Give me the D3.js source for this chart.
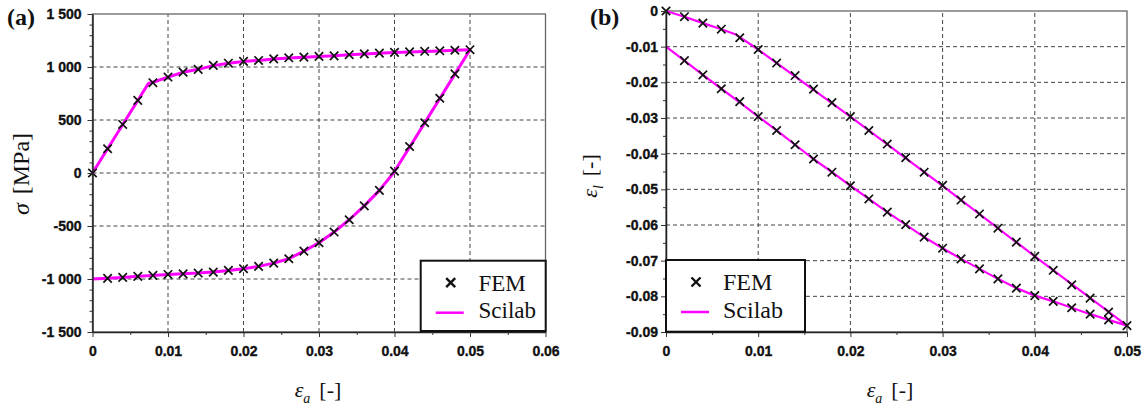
<!DOCTYPE html>
<html>
<head>
<meta charset="utf-8">
<script src="https://cdn.jsdelivr.net/npm/d3@7"></script>
<style>
  body { margin: 0; background: #fff; }
  .serif { font-family: "Liberation Serif", "Times New Roman", serif; fill: #111; }
  .lbl { font-family: "Liberation Sans", Arial, sans-serif; font-weight: 700; font-size: 14px; fill: #111; }
</style>
</head>
<body>
<div id="chart"></div>
<script>
"use strict";

// ---- panel (a): sigma [MPa] vs eps_a ----
var xTicksA = [0, 0.01, 0.02, 0.03, 0.04, 0.05, 0.06];
var xLabelsA = ["0", "0.01", "0.02", "0.03", "0.04", "0.05", "0.06"];
var yTicksA = [-1500, -1000, -500, 0, 500, 1000, 1500];
var yLabelsA = ["-1 500", "-1 000", "-500", "0", "500", "1 000", "1 500"];

// FEM points, loading branch
var femLoadX = [0, 0.002, 0.004, 0.006, 0.008, 0.010, 0.012, 0.014, 0.016, 0.018, 0.020, 0.022, 0.024,
                0.026, 0.028, 0.030, 0.032, 0.034, 0.036, 0.038, 0.040, 0.042, 0.044, 0.046, 0.048, 0.050];
var femLoadS = [0, 229, 458, 685, 852, 905, 952, 978, 1015, 1036, 1053, 1062, 1077,
                1087, 1093, 1100, 1105, 1116, 1124, 1131, 1138, 1143, 1148, 1153, 1158, 1163];
// FEM points, unloading branch
var femUnloadX = [0.048, 0.046, 0.044, 0.042, 0.040, 0.038, 0.036, 0.034, 0.032, 0.030, 0.028, 0.026,
                  0.024, 0.022, 0.020, 0.018, 0.016, 0.014, 0.012, 0.010, 0.008, 0.006, 0.004, 0.002];
var femUnloadS = [935, 705, 474, 250, 18, -164, -310, -441, -557, -658, -737, -809,
                  -850, -881, -903, -919, -935, -944, -952, -957, -966, -975, -985, -994];
// Scilab curve (full cycle)
var sciAX = [0, 0.0074, 0.008, 0.010, 0.012, 0.014, 0.016, 0.018, 0.020, 0.022, 0.024, 0.026, 0.028, 0.030,
             0.032, 0.034, 0.036, 0.038, 0.040, 0.042, 0.044, 0.046, 0.048, 0.050,
             0.048, 0.046, 0.044, 0.042, 0.0399, 0.038, 0.036, 0.034, 0.032, 0.030, 0.028, 0.026, 0.024,
             0.022, 0.020, 0.018, 0.016, 0.014, 0.012, 0.010, 0.008, 0.006, 0.004, 0.002, 0];
var sciAS = [0, 845, 856, 905, 950, 978, 1013, 1035, 1052, 1062, 1076, 1086, 1093, 1100,
             1105, 1115, 1123, 1130, 1137, 1142, 1147, 1152, 1157, 1163,
             933, 703, 473, 243, 5, -164, -310, -441, -557, -658, -737, -809, -850,
             -881, -903, -919, -933, -944, -951, -957, -966, -975, -985, -994, -1000];

// ---- panel (b): eps_l vs eps_a ----
var xTicksB = [0, 0.01, 0.02, 0.03, 0.04, 0.05];
var xLabelsB = ["0", "0.01", "0.02", "0.03", "0.04", "0.05"];
var yTicksB = [-0.09, -0.08, -0.07, -0.06, -0.05, -0.04, -0.03, -0.02, -0.01, 0];
var yLabelsB = ["-0.09", "-0.08", "-0.07", "-0.06", "-0.05", "-0.04", "-0.03", "-0.02", "-0.01", "0"];

var femLatLoadE = [0, -0.0016, -0.0034, -0.0051, -0.0075, -0.0108, -0.0146, -0.0181, -0.0219, -0.0257, -0.0296, -0.0335, -0.0373,
                   -0.0411, -0.0452, -0.0489, -0.0530, -0.0569, -0.0609, -0.0648, -0.0688, -0.0727, -0.0768, -0.0805, -0.0844, -0.0882];
var femLatUnloadE = [-0.0866, -0.0850, -0.0832, -0.0814, -0.0798, -0.0777, -0.0751, -0.0723, -0.0695, -0.0665, -0.0634, -0.0599,
                     -0.0564, -0.0527, -0.0490, -0.0452, -0.0415, -0.0375, -0.0335, -0.0296, -0.0254, -0.0218, -0.0179, -0.0139];
var sciBX = [0, 0.002, 0.004, 0.006, 0.0075, 0.010, 0.020, 0.030, 0.040, 0.050,
             0.048, 0.046, 0.044, 0.042, 0.040, 0.038, 0.036, 0.034, 0.032, 0.030, 0.028, 0.026, 0.024,
             0.022, 0.020, 0.018, 0.016, 0.014, 0.012, 0.010, 0.008, 0.006, 0.004, 0.002, 0];
var sciBE = [0, -0.0016, -0.0034, -0.0051, -0.0065, -0.0108, -0.0296, -0.0490, -0.0688, -0.0882,
             -0.0866, -0.0850, -0.0832, -0.0814, -0.0798, -0.0777, -0.0751, -0.0723, -0.0695, -0.0665, -0.0634, -0.0599, -0.0564,
             -0.0527, -0.0490, -0.0452, -0.0415, -0.0375, -0.0335, -0.0296, -0.0256, -0.0218, -0.0179, -0.0139, -0.0100];

var zip = function (a, b) { return a.map(function (v, i) { return [v, b[i]]; }); };

var svg = d3.select('#chart').append('svg')
  .attr('width', 1148).attr('height', 409);

function desenhaPainel(p) {
  var x = p.x, y = p.y;
  var g = svg.append('g');
  var x0 = x.range()[0], x1 = x.range()[1], yb = y.range()[0], yt = y.range()[1];

  // grid
  g.selectAll('line.gx').data(p.xTicks.slice(1, -1)).enter().append('line')
    .attr('x1', d => x(d)).attr('x2', d => x(d)).attr('y1', yb).attr('y2', yt)
    .attr('stroke', '#444').attr('stroke-width', 1).attr('stroke-dasharray', '4,3');
  g.selectAll('line.gy').data(p.yTicks.slice(1, -1)).enter().append('line')
    .attr('y1', d => y(d)).attr('y2', d => y(d)).attr('x1', x0).attr('x2', x1)
    .attr('stroke', '#444').attr('stroke-width', 1).attr('stroke-dasharray', '4,3');

  // frame
  g.append('rect').attr('x', x0).attr('y', yt).attr('width', x1 - x0).attr('height', yb - yt)
    .attr('fill', 'none').attr('stroke', '#666').attr('stroke-width', 1.3);

  // Scilab line
  var linha = d3.line().x(d => x(d[0])).y(d => y(d[1]));
  g.append('path').datum(p.sci).attr('d', linha)
    .attr('fill', 'none').attr('stroke', '#ff00ff').attr('stroke-width', p.lw)
    .attr('stroke-linejoin', 'round');

  // FEM markers
  var s = p.ms;
  g.selectAll('path.fem').data(p.fem).enter().append('path')
    .attr('transform', d => 'translate(' + x(d[0]) + ',' + y(d[1]) + ')')
    .attr('d', 'M' + -s + ',' + -s + 'L' + s + ',' + s + 'M' + -s + ',' + s + 'L' + s + ',' + -s)
    .attr('stroke', '#111').attr('stroke-width', 1.7).attr('fill', 'none');

  // axes
  var eixos = [];
  eixos.push(g.append('g').attr('transform', 'translate(0,' + yb + ')')
    .call(d3.axisBottom(x).tickValues(p.xTicks).tickFormat((d, i) => p.xLabels[i])
      .tickSizeInner(5).tickSizeOuter(0).tickPadding(9)));
  g.append('g').attr('transform', 'translate(0,' + yb + ')')
    .call(d3.axisBottom(x).tickValues(p.xMinor).tickFormat(() => '').tickSizeInner(3).tickSizeOuter(0))
    .select('.domain').remove();
  eixos.push(g.append('g').attr('transform', 'translate(' + x0 + ',0)')
    .call(d3.axisLeft(y).tickValues(p.yTicks).tickFormat((d, i) => p.yLabels[i])
      .tickSizeInner(5).tickSizeOuter(0).tickPadding(p.yPad)));
  g.append('g').attr('transform', 'translate(' + x0 + ',0)')
    .call(d3.axisLeft(y).tickValues(p.yMinor).tickFormat(() => '').tickSizeInner(3).tickSizeOuter(0))
    .select('.domain').remove();
  g.selectAll('.domain').attr('stroke', '#222').attr('stroke-width', 1.5);
  g.selectAll('.tick line').attr('stroke', '#333');
  eixos.forEach(function (e) {
    e.attr('font-family', null).attr('font-size', null);
    e.selectAll('.tick text').attr('class', 'lbl')
      .attr('font-weight', 'bold').attr('stroke', '#111').attr('stroke-width', 0.35);
  });

  // legend
  var L = p.legend;
  g.append('rect').attr('x', L.x).attr('y', L.y).attr('width', L.w).attr('height', L.h)
    .attr('fill', '#fff').attr('stroke', '#111').attr('stroke-width', 2);
  var m = 4.5;
  g.append('path').attr('transform', 'translate(' + L.mx + ',' + (L.y + 22) + ')')
    .attr('d', 'M' + -m + ',' + -m + 'L' + m + ',' + m + 'M' + -m + ',' + m + 'L' + m + ',' + -m)
    .attr('stroke', '#111').attr('stroke-width', 2.4);
  g.append('line').attr('x1', L.mx - 15).attr('x2', L.mx + 13).attr('y1', L.y + 52).attr('y2', L.y + 52)
    .attr('stroke', '#ff00ff').attr('stroke-width', 2.5);
  g.append('text').attr('class', 'serif').attr('x', L.tx).attr('y', L.y + 30)
    .style('font-size', L.fs + 'px').text('FEM');
  g.append('text').attr('class', 'serif').attr('x', L.tx).attr('y', L.y + 57.5)
    .style('font-size', L.fs + 'px').text('Scilab');
}

var xA = d3.scaleLinear().domain([0, 0.06]).range([92.5, 545.5]);
var yA = d3.scaleLinear().domain([-1500, 1500]).range([332, 14]);
var xB = d3.scaleLinear().domain([0, 0.05]).range([666, 1127]);
var yB = d3.scaleLinear().domain([-0.09, 0]).range([332, 11]);

desenhaPainel({
  x: xA, y: yA, xTicks: xTicksA, xLabels: xLabelsA, yTicks: yTicksA, yLabels: yLabelsA,
  xMinor: d3.range(0.005, 0.06, 0.01), yMinor: d3.range(-1500, 1501, 100).filter(v => v % 500 !== 0),
  sci: zip(sciAX, sciAS),
  fem: zip(femLoadX, femLoadS).concat(zip(femUnloadX, femUnloadS)),
  lw: 3, ms: 4.2, yPad: 6,
  legend: {x: 420.7, y: 260.7, w: 125, h: 70.3, mx: 450.7, tx: 478.5, fs: 23}
});

desenhaPainel({
  x: xB, y: yB, xTicks: xTicksB, xLabels: xLabelsB, yTicks: yTicksB, yLabels: yLabelsB,
  xMinor: d3.range(0.005, 0.05, 0.01), yMinor: d3.range(-0.085, 0, 0.01),
  sci: zip(sciBX, sciBE),
  fem: zip(femLoadX, femLatLoadE).concat(zip(femUnloadX, femLatUnloadE)),
  lw: 2.2, ms: 4.2, yPad: 3,
  legend: {x: 666, y: 260, w: 139, h: 71.7, mx: 696, tx: 723, fs: 24}
});

// panel letters
svg.append('text').attr('class', 'serif').attr('x', 7).attr('y', 25)
  .style('font-size', '24px').style('font-weight', 'bold').text('(a)');
svg.append('text').attr('class', 'serif').attr('x', 590).attr('y', 25)
  .style('font-size', '24px').style('font-weight', 'bold').text('(b)');

// axis titles
function titulo(x, y, rot, sym, sub, fs) {
  var t = svg.append('text').attr('class', 'serif')
    .attr('transform', 'translate(' + x + ',' + y + ')' + (rot ? ' rotate(-90)' : ''))
    .attr('text-anchor', 'middle').style('font-size', fs + 'px');
  t.append('tspan').style('font-style', 'italic').text(sym);
  if (sub) t.append('tspan').style('font-style', 'italic').style('font-size', '14px').attr('dy', 6).text(sub);
  t.append('tspan').attr('dx', 9).attr('dy', sub ? -6 : 0).text('[' + (sub ? '-' : 'MPa') + ']');
}
titulo(29, 174, true, 'σ', null, 24);
titulo(318, 397, false, 'ε', 'a', 22);
titulo(597, 176, true, 'ε', 'l', 22);
titulo(890, 397, false, 'ε', 'a', 22);
</script>
</body>
</html>
